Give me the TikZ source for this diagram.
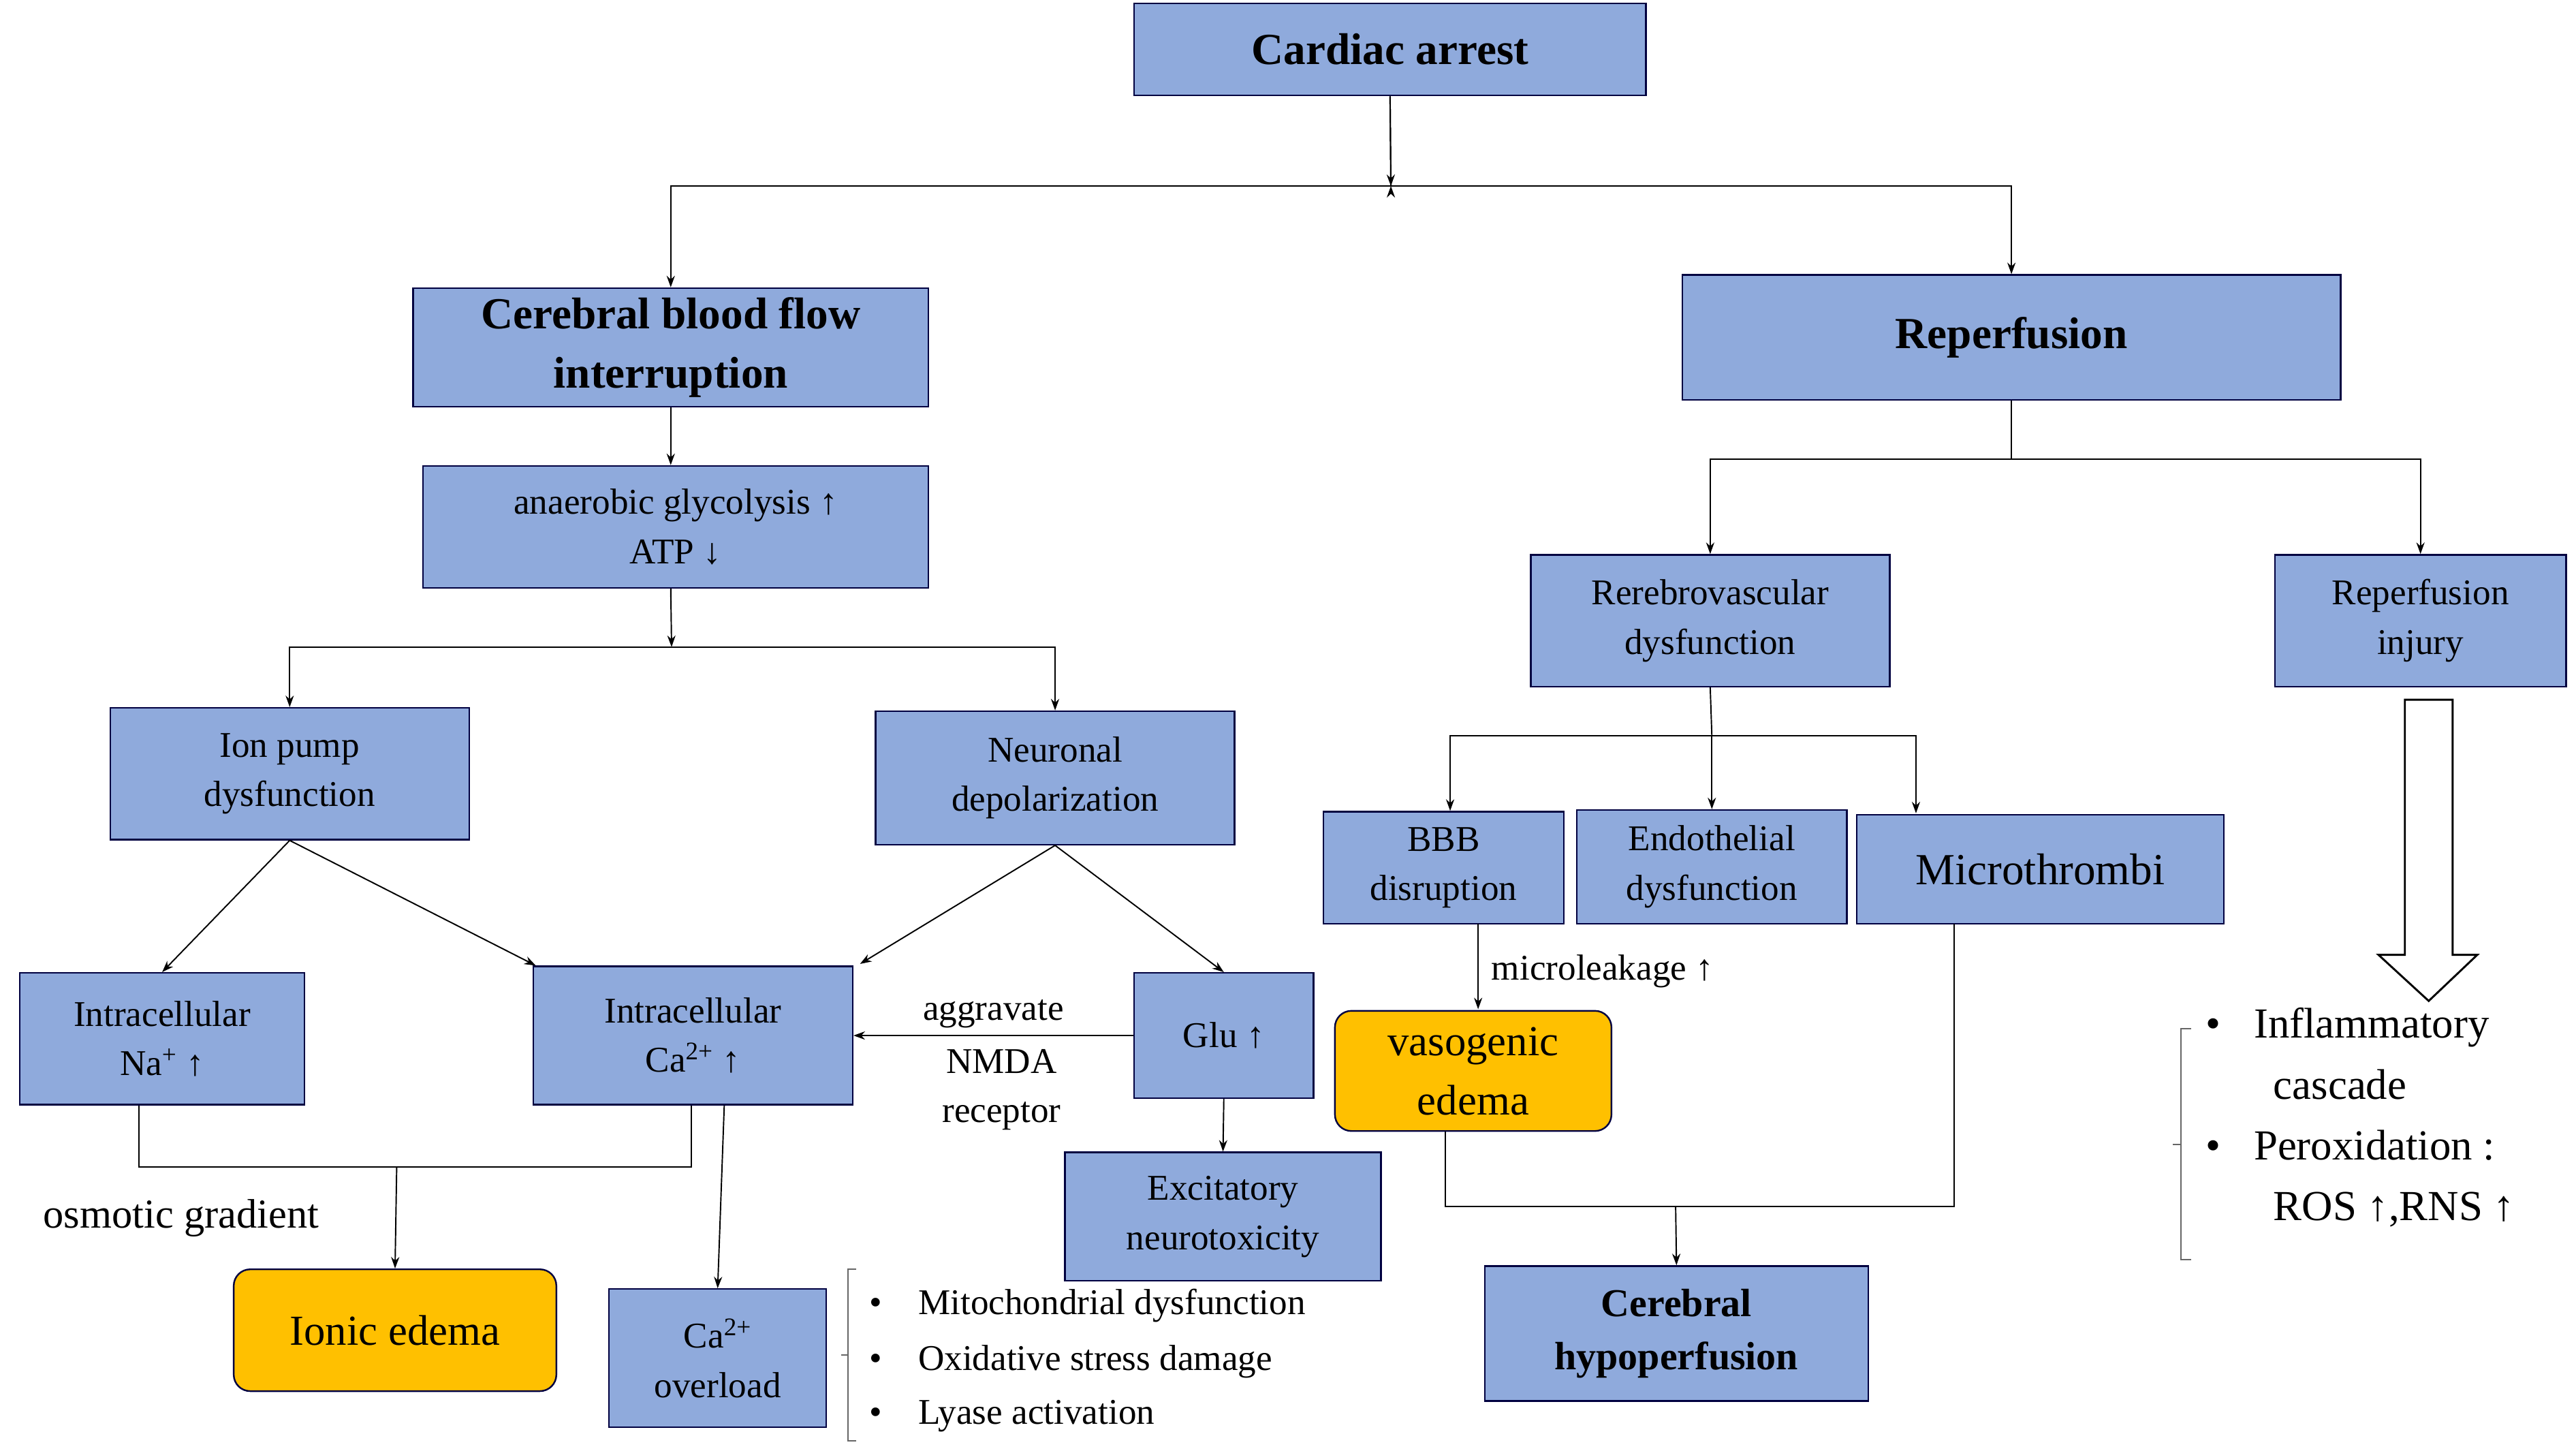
\documentclass[tikz,border=0pt]{standalone}
\usepackage{fontspec}
\setmainfont{Liberation Serif}
\usetikzlibrary{arrows.meta}
\begin{document}
\begin{tikzpicture}[x=1pt,y=-1pt,
  box/.style={draw=black!75!blue,line width=1pt,fill=boxblue,align=center,inner sep=1pt,font=\fontsize{22}{30}\selectfont},
  obox/.style={box,fill=boxorange,rounded corners=10pt},
  big/.style={font=\fontsize{27}{36}\selectfont\bfseries},
  arr/.style={-{Stealth[length=7pt,width=5pt]},line width=0.8pt},
  ln/.style={line width=0.8pt},
  txt/.style={font=\fontsize{22}{30}\selectfont,align=left,inner sep=0pt}]
\definecolor{boxblue}{HTML}{8FAADC}
\definecolor{boxorange}{HTML}{FFC000}
\useasboundingbox[fill=white] (0,0) rectangle (1565,880);
% nodes
\node[box,big,minimum width=311,minimum height=56] (ca0) at (844.5,30) {Cardiac arrest};
\node[box,big,minimum width=313,minimum height=72] (cbf) at (407.5,211) {Cerebral blood flow\\interruption};
\node[box,big,minimum width=400,minimum height=76] (rep) at (1222,205) {Reperfusion};
\node[box,minimum width=307,minimum height=74] (ana) at (410.5,320) {anaerobic glycolysis ↑\\ATP ↓};
\node[box,minimum width=218,minimum height=80] (ion) at (176,470) {Ion pump\\dysfunction};
\node[box,minimum width=218,minimum height=81] (neu) at (641,472.5) {Neuronal\\depolarization};
\node[box,minimum width=173,minimum height=80] (na) at (98.5,631) {Intracellular\\Na\textsuperscript{+} ↑};
\node[box,minimum width=194,minimum height=84] (ca) at (421,629) {Intracellular\\Ca\textsuperscript{2+} ↑};
\node[box,minimum width=109,minimum height=76] (glu) at (743.5,629) {Glu ↑};
\node[box,minimum width=192,minimum height=78] (exc) at (743,739) {Excitatory\\neurotoxicity};
\node[obox,font=\fontsize{26}{32}\selectfont,minimum width=196,minimum height=74] (ionic) at (240,808) {Ionic edema};
\node[box,minimum width=132,minimum height=84] (cao) at (436,825) {Ca\textsuperscript{2+}\\overload};
\node[box,minimum width=218,minimum height=80] (rere) at (1039,377) {Rerebrovascular\\dysfunction};
\node[box,minimum width=177,minimum height=80] (rinj) at (1470.5,377) {Reperfusion\\injury};
\node[box,minimum width=146,minimum height=68] (bbb) at (877,527) {BBB\\disruption};
\node[box,minimum width=164,minimum height=69] (endo) at (1040,526.5) {Endothelial\\dysfunction};
\node[box,font=\fontsize{27}{34}\selectfont,minimum width=223,minimum height=66] (mic) at (1239.5,528) {Microthrombi};
\node[obox,font=\fontsize{26}{36}\selectfont,minimum width=168,minimum height=73] (vaso) at (895,650.5) {vasogenic\\edema};
\node[box,big,font=\fontsize{24}{32}\selectfont\bfseries,minimum width=233,minimum height=82] (hypo) at (1018.5,810) {Cerebral\\hypoperfusion};
% coordinates
\coordinate (j1) at (845,113);
\coordinate (j2) at (408,393);
\coordinate (j3) at (1222,279);
\coordinate (j4) at (1040,447);
\coordinate (j5) at (241,709);
\coordinate (j6) at (1018,733);
% connectors top
\draw[ln] (ca0.south) -- (j1);
\draw[arr] (j1) -- ++(0,0);
\draw[arr] (ca0.south) -- (j1);
\draw[arr] (j1) -| (cbf.north);
\draw[arr] (j1) -| (rep.north);
\draw[arr] (cbf.south) -- (ana.north -| cbf.south);
\draw[arr] (ana.south -| cbf.south) -- (j2);
\draw[arr] (j2) -| (ion.north);
\draw[arr] (j2) -| (neu.north);
\draw[arr] (ion.south) -- (na.north);
\draw[arr] (ion.south) -- ([xshift=2pt]ca.north west);
\draw[arr] (neu.south) -- ([xshift=4pt,yshift=1pt]ca.north east);
\draw[arr] (neu.south) -- (glu.north);
\draw[arr] (glu.west) -- (ca.east) node[midway,above=4pt,txt] {aggravate}
  node[midway,below=8pt,txt,align=center,xshift=5pt] {NMDA\\receptor};
\draw[arr] (glu.south) -- (exc.north);
\draw[ln] ([xshift=-14pt]na.south) |- (j5) -| ([xshift=-1pt]ca.south);
\draw[arr] (j5) -- (ionic.north);
\node[txt,font=\fontsize{25}{30}\selectfont] (osm) at (110,740) {osmotic gradient};
\draw[arr] ([xshift=19pt]ca.south) -- (cao.north);
% bullets left
\draw[ln,black!60] (520,771) -- (515,771) -- (515,875) -- (520,875);
\draw[ln,black!60] (515,823) -- (511,823);
\node[txt,anchor=west] (b1) at (528,793) {•\hspace{22pt}Mitochondrial dysfunction};
\node[txt,anchor=west] (b2) at (528,827) {•\hspace{22pt}Oxidative stress damage};
\node[txt,anchor=west] (b3) at (528,860) {•\hspace{22pt}Lyase activation};
% right
\draw[ln] (rep.south) -- (j3);
\draw[arr] (j3) -| (rere.north);
\draw[arr] (j3) -| (rinj.north);
\draw[ln] (rere.south) -- (j4);
\draw[arr] (j4) -| (bbb.north -| 881,0);
\draw[arr] (j4) -- (endo.north);
\draw[arr] (j4) -| (1164,494);
\draw[arr] (898,561) -- (898,613);
\node[txt,anchor=west] (ml) at (906,590) {microleakage ↑};
\draw[ln] ([xshift=-17pt]vaso.south) |- (j6) -| (1187,561);
\draw[arr] (j6) -- (hypo.north);
% hollow arrow
\draw[line width=1.2pt,fill=white] (1461,425) -- (1490,425) -- (1490,580) -- (1505,580) -- (1475.5,608) -- (1445,580) -- (1461,580) -- cycle;
% bullets right
\draw[ln,black!60] (1331,625) -- (1325,625) -- (1325,765) -- (1331,765);
\draw[ln,black!60] (1325,695) -- (1320,695);
\node[txt,font=\fontsize{26}{37}\selectfont,anchor=north west] (r1) at (1340,612) {•\hspace{20pt}Inflammatory\\\hspace*{41pt}cascade\\•\hspace{20pt}Peroxidation :\\\hspace*{41pt}ROS ↑,RNS ↑};
\end{tikzpicture}
\end{document}
